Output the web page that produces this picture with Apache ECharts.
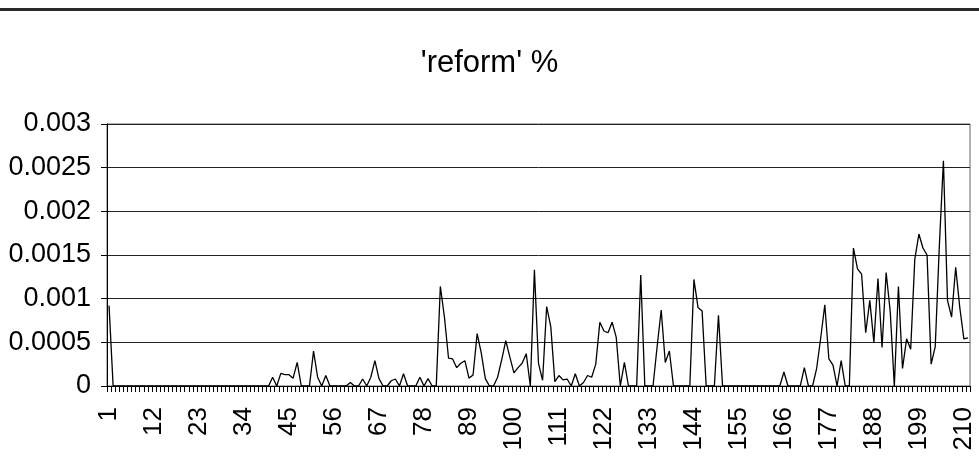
<!DOCTYPE html>
<html>
<head>
<meta charset="utf-8">
<script src="https://cdn.jsdelivr.net/npm/echarts@6/dist/echarts.min.js"></script>
<style>
html,body{margin:0;padding:0;background:#fff;}
#chart{width:979px;height:470px;}
</style>
</head>
<body>
<div id="chart"></div>
<script>
var titleText = "'reform' %";
var categoryCount = 211;
var categories = Array.from({length: categoryCount}, function (_, i) { return String(i + 1); });
var yTicks = [0, 0.0005, 0.001, 0.0015, 0.002, 0.0025, 0.003];
var reformPct = [
  0.00092, 0, 0, 0, 0, 0, 0, 0, 0, 0,
  0, 0, 0, 0, 0, 0, 0, 0, 0, 0,
  0, 0, 0, 0, 0, 0, 0, 0, 0, 0,
  0, 0, 0, 0, 0, 0, 0, 0, 0, 0,
  0.0001, 0, 0.000145, 0.00013, 0.00013, 0.00009, 0.00027, 0, 0, 0,
  0.0004, 0.0001, 0, 0.00012, 0, 0, 0, 0, 0, 0.00004,
  0, 0, 0.00008, 0, 0.0001, 0.00029, 0.000085, 0, 0, 0.00006,
  0.00008, 0, 0.00014, 0, 0, 0, 0.0001, 0, 0.000085, 0,
  0, 0.00114, 0.00079, 0.00032, 0.00031, 0.00021, 0.00026, 0.00029, 0.00009, 0.000126,
  0.0006, 0.00038, 0.000085, 0, 0, 0.0001, 0.0003, 0.00052, 0.00033, 0.00015,
  0.00021, 0.00026, 0.00037, 0, 0.00133, 0.00026, 0.000065, 0.00091, 0.00068, 0.00005,
  0.00012, 0.00007, 0.00008, 0, 0.00014, 0, 0.00004, 0.00012, 0.0001, 0.00025,
  0.00073, 0.00063, 0.00061, 0.00073, 0.00056, 0, 0.00027, 0, 0, 0,
  0.00127, 0, 0, 0, 0.00045, 0.00087, 0.00027, 0.0004, 0, 0,
  0, 0, 0, 0.00122, 0.0009, 0.00086, 0, 0, 0, 0.00081,
  0, 0, 0, 0, 0, 0, 0, 0, 0, 0,
  0, 0, 0, 0, 0, 0.00016, 0, 0, 0, 0,
  0.00021, 0, 0, 0.0002, 0.00055, 0.00093, 0.00031, 0.00024, 0, 0.00029,
  0, 0, 0.00158, 0.00134, 0.00128, 0.00061, 0.00098, 0.0005, 0.00123, 0.00044,
  0.0013, 0.00085, 0, 0.00114, 0.0002, 0.00054, 0.00042, 0.00145, 0.00174, 0.00158,
  0.0015, 0.00025, 0.00045, 0.0016, 0.00258, 0.00098, 0.00079, 0.00136, 0.0009, 0.00054,
  0.00055
];

var chart = echarts.init(document.getElementById('chart'), null, {renderer: 'canvas'});
var fontFam = '"Liberation Sans", Arial, sans-serif';
chart.setOption({
  animation: false,
  backgroundColor: '#ffffff',
  title: {
    text: titleText,
    left: 'center',
    top: 43,
    textStyle: {fontFamily: fontFam, fontSize: 31, fontWeight: 'normal', color: '#000'}
  },
  graphic: [{
    type: 'rect',
    left: 0, top: 8,
    shape: {width: 979, height: 3},
    style: {fill: '#2a2a2a'}
  }],
  grid: {
    left: 107, right: 9, top: 124, bottom: 84,
    show: true, borderColor: '#666', borderWidth: 1, backgroundColor: 'transparent'
  },
  xAxis: {
    type: 'category',
    data: categories,
    boundaryGap: true,
    axisLine: {lineStyle: {color: '#000', width: 1}},
    axisTick: {show: true, interval: 0, length: 6, lineStyle: {color: '#000'}},
    axisLabel: {
      interval: 10, rotate: 90, margin: 21,
      fontFamily: fontFam, fontSize: 26, color: '#000'
    },
    splitLine: {show: false}
  },
  yAxis: {
    type: 'value',
    min: yTicks[0], max: yTicks[yTicks.length - 1], interval: 0.0005,
    axisLine: {show: true, lineStyle: {color: '#000', width: 1}},
    axisTick: {show: true, length: 6, lineStyle: {color: '#000'}},
    axisLabel: {
      margin: 16, fontFamily: fontFam, fontSize: 27, color: '#000',
      formatter: function (v) { return String(+v.toFixed(4)); }
    },
    splitLine: {show: true, lineStyle: {color: '#222', width: 1}}
  },
  series: [{
    type: 'line',
    data: reformPct,
    showSymbol: false,
    symbol: 'none',
    lineStyle: {color: '#000', width: 1.3},
    emphasis: {disabled: true}
  }]
});
</script>
</body>
</html>
